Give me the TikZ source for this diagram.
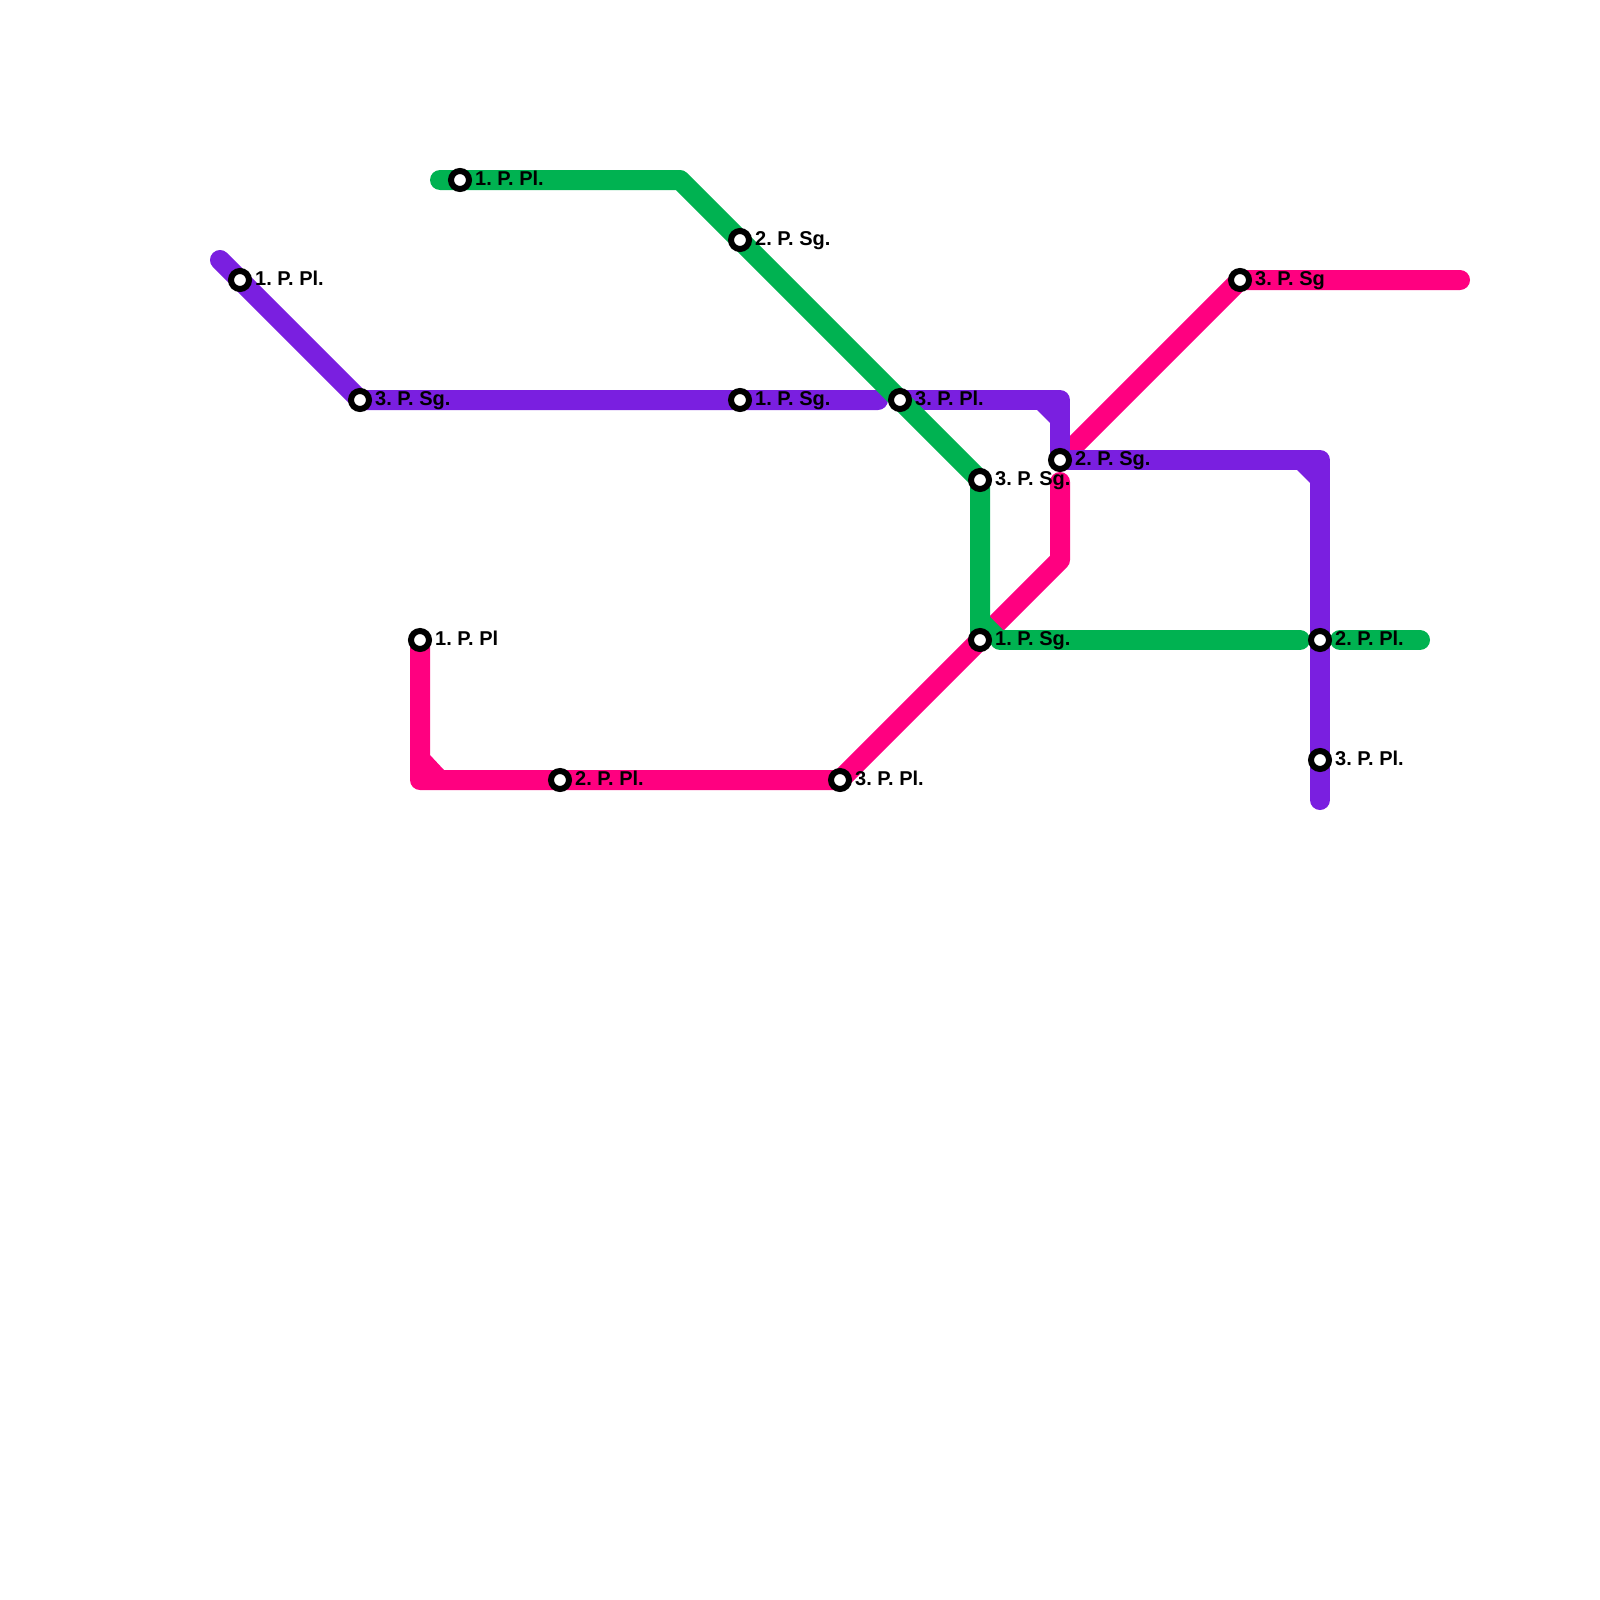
\documentclass[tikz,border=0pt]{standalone}
\usepackage{fontspec}
\setmainfont{Liberation Sans}
\definecolor{lpurple}{HTML}{7A1FE0}
\definecolor{lgreen}{HTML}{00B251}
\definecolor{lpink}{HTML}{FF0080}
\tikzset{
  metro/.style={line width=20pt,line cap=round,line join=round},
  purpleline/.style={metro,draw=lpurple},
  greenline/.style={metro,draw=lgreen},
  pinkline/.style={metro,draw=lpink},
  stn/.style={circle,draw=black,fill=white,line width=6pt,minimum size=18pt,inner sep=0pt},
  lbl/.style={anchor=base west,inner sep=0pt,font=\fontsize{20}{22}\selectfont\bfseries\frenchspacing,text=black},
}
\begin{document}
\begin{tikzpicture}[x=1pt,y=-1pt]
\useasboundingbox (0,0) rectangle (1600,1600);
% bends and free ends
\coordinate (pu0) at (220,260);
\coordinate (pu1) at (360,400);
\coordinate (pu2) at (878,400);
\coordinate (pu3) at (900,400);
\coordinate (pu4) at (1060,400);
\coordinate (pu5) at (1060,460);
\coordinate (pu6) at (1320,460);
\coordinate (pu7) at (1320,800);
\coordinate (gr0) at (440,180);
\coordinate (gr1) at (680,180);
\coordinate (gr2) at (980,480);
\coordinate (gr3) at (980,632);
\coordinate (gr4) at (1000,640);
\coordinate (gr5) at (1300,640);
\coordinate (gr6) at (1340,640);
\coordinate (gr7) at (1420,640);
\coordinate (pk0) at (420,640);
\coordinate (pk1) at (420,780);
\coordinate (pk2) at (840,780);
\coordinate (pk3) at (1060,560);
\coordinate (pk4) at (1060,482);
\coordinate (pk5) at (1075,445);
\coordinate (pk6) at (1240,280);
\coordinate (pk7) at (1460,280);
% pink line
\draw[pinkline] (pk0) -- (pk1) -- (pk2) -- (pk3) -- (pk4);
\draw[pinkline] (pk5) -- (pk6) -- (pk7);
\fill[lpink] (430,755) -- (444,770) -- (430,770) -- cycle;
% purple line
\draw[purpleline] (pu0) -- (pu1) -- (pu2);
\draw[purpleline] (pu3) -- (pu4) -- (pu5);
\draw[purpleline] (pu5) -- (pu6) -- (pu7);
\fill[lpurple] (1037,410) -- (1050,423) -- (1050,410) -- cycle;
\fill[lpurple] (1297,470) -- (1310,483) -- (1310,470) -- cycle;
% green line
\draw[greenline] (gr0) -- (gr1) -- (gr2) -- (gr3);
\draw[greenline] (gr4) -- (gr5);
\draw[greenline] (gr6) -- (gr7);
\fill[lgreen] (990,617) -- (1004,631) -- (990,640) -- cycle;
% stations
\node[stn] (s1) at (240,280) {};
\node[stn] (s2) at (360,400) {};
\node[stn] (s3) at (740,400) {};
\node[stn] (s4) at (900,400) {};
\node[stn] (s5) at (1060,460) {};
\node[stn] (s6) at (1320,640) {};
\node[stn] (s7) at (1320,760) {};
\node[stn] (s8) at (460,180) {};
\node[stn] (s9) at (740,240) {};
\node[stn] (s10) at (980,480) {};
\node[stn] (s11) at (980,640) {};
\node[stn] (s12) at (420,640) {};
\node[stn] (s13) at (560,780) {};
\node[stn] (s14) at (840,780) {};
\node[stn] (s15) at (1240,280) {};
% labels
\node[lbl] (t1) at (255,285) {1. P. Pl.};
\node[lbl] (t2) at (375,405) {3. P. Sg.};
\node[lbl] (t3) at (755,405) {1. P. Sg.};
\node[lbl] (t4) at (915,405) {3. P. Pl.};
\node[lbl] (t5) at (1075,465) {2. P. Sg.};
\node[lbl] (t6) at (1335,645) {2. P. Pl.};
\node[lbl] (t7) at (1335,765) {3. P. Pl.};
\node[lbl] (t8) at (475,185) {1. P. Pl.};
\node[lbl] (t9) at (755,245) {2. P. Sg.};
\node[lbl] (t10) at (995,485) {3. P. Sg.};
\node[lbl] (t11) at (995,645) {1. P. Sg.};
\node[lbl] (t12) at (435,645) {1. P. Pl};
\node[lbl] (t13) at (575,785) {2. P. Pl.};
\node[lbl] (t14) at (855,785) {3. P. Pl.};
\node[lbl] (t15) at (1255,285) {3. P. Sg};
\end{tikzpicture}
\end{document}
